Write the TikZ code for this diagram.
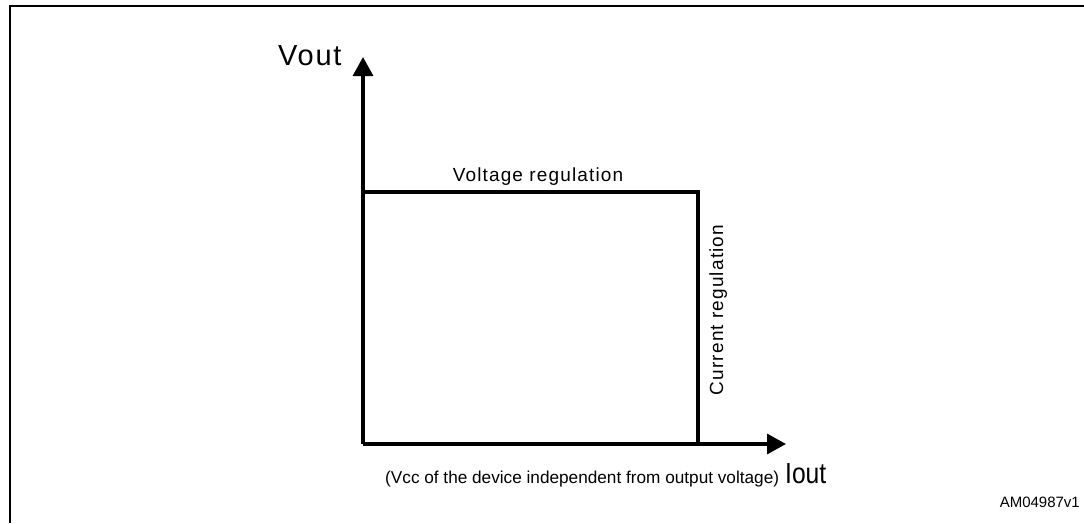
\documentclass[tikz,border=0pt]{standalone}
\usepackage{fontspec}
\setmainfont{Liberation Sans}
\newfontfamily\spaced[LetterSpace=6]{Liberation Sans}
\usetikzlibrary{arrows.meta}
\begin{document}
\begin{tikzpicture}[x=1pt,y=-1pt,
  axis/.style={line width=3.4pt,-{Triangle[width=20pt,length=19pt]}},
  curve/.style={line width=3.4pt,line join=miter},
  lbl/.style={inner sep=0pt,font=\spaced\fontsize{19}{19}\selectfont},
  big/.style={inner sep=0pt,font=\spaced\fontsize{29}{29}\selectfont}]
\useasboundingbox (0,0) rectangle (1084,523);
% frame
\coordinate (fbl) at (10,523);
\coordinate (ftl) at (10,6);
\coordinate (ftr) at (1084,6);
\draw[line width=2.4pt] (fbl) -- (ftl) -- (ftr);
% axes
\coordinate (o) at (363,444);
\coordinate (ytip) at (363,57);
\coordinate (xtip) at (786,444);
\draw[axis] (o) -- (ytip);
\draw[axis] (o) -- (xtip);
% regulation curve
\coordinate (vl) at (363,192);
\coordinate (vr) at (698,192);
\coordinate (cb) at (698,444);
\draw[curve] (vl) -- (vr) -- (cb);
% labels
\node[big,anchor=base west] (vout) at (278,65) {Vout};
\node[lbl,anchor=base] (vreg) at (538,181) {Voltage regulation};
\node[lbl,anchor=base,rotate=90] (creg) at (723,310) {Current regulation};
\node[inner sep=0pt,anchor=base west,font=\fontsize{17.2}{17.2}\selectfont] (vcc) at (385,483) {(Vcc of the device independent from output voltage)};
\node[inner sep=0pt,anchor=base west,xscale=0.85,font=\fontsize{29}{29}\selectfont] (iout) at (785,483) {Iout};
\node[inner sep=0pt,anchor=base east,font=\fontsize{15}{15}\selectfont] (am) at (1080,507) {AM04987v1};
\end{tikzpicture}
\end{document}
